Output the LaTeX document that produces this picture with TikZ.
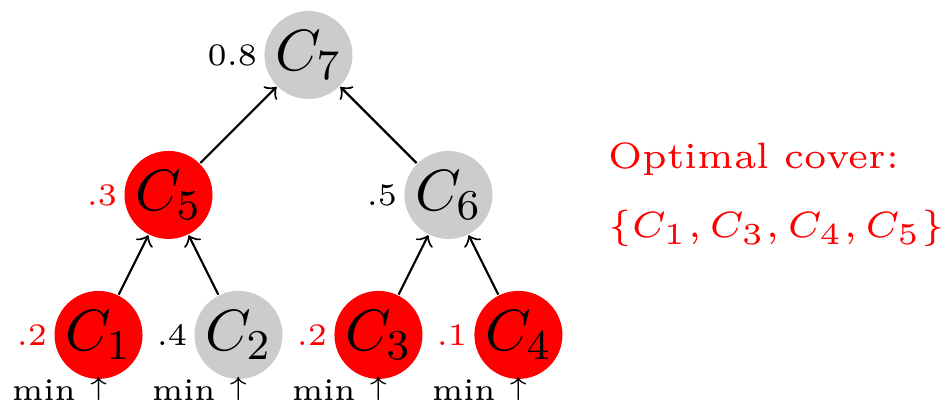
\documentclass[tikz,border=0pt]{standalone}
\usepackage{tikz}
\usetikzlibrary{positioning}
\tikzset{
  cnode/.style={circle, fill=gray!40, minimum size=5.83mm, inner sep=0pt,
                font=\fontsize{10.95}{13}\selectfont},
  picked/.style={cnode, fill=red},
  wlabel/.style={font=\fontsize{5.9}{7}\selectfont, inner sep=0pt, label distance=1pt},
  minlabel/.style={label={[wlabel, label distance=-0.75pt]below:\llap{min }\raisebox{1pt}{$\scriptstyle\uparrow$}}},
  cover/.style={anchor=base west, inner sep=0pt, text=red, scale=1.15, font=\fontsize{6}{7}\selectfont},
  arr/.style={->},
}

\begin{document}
\begin{tikzpicture}[node distance=9.27mm and 9.27mm, on grid]
    \useasboundingbox (0,0) rectangle (6.272,-2.662);
    % tree
    \node[cnode, label={[wlabel]left:0.8}] (c7) at (2.043,-0.364) {$C_7$};
    \node[picked, below left=of c7, label={[wlabel, text=red]left:.3}] (c5) {$C_5$};
    \node[cnode, below right=of c7, label={[wlabel]left:.5}] (c6) {$C_6$};
    \node[picked, below left=9.27mm and 4.635mm of c5, minlabel, label={[wlabel, text=red]left:.2}] (c1) {$C_1$};
    \node[cnode, below right=9.27mm and 4.635mm of c5, minlabel, label={[wlabel]left:.4}] (c2) {$C_2$};
    \node[picked, below left=9.27mm and 4.635mm of c6, minlabel, label={[wlabel, text=red]left:.2}] (c3) {$C_3$};
    \node[picked, below right=9.27mm and 4.635mm of c6, minlabel, label={[wlabel, text=red]left:.1}] (c4) {$C_4$};
    \draw[arr] (c1) -- (c5);
    \draw[arr] (c2) -- (c5);
    \draw[arr] (c3) -- (c6);
    \draw[arr] (c4) -- (c6);
    \draw[arr] (c5) -- (c7);
    \draw[arr] (c6) -- (c7);
    % result
    \node[cover] (covertxt) at (4.02,-1.119) {Optimal cover:};
    \node[cover] (coverset) at (4.02,-1.570) {$\{C_1, C_3, C_4, C_5\}$};
\end{tikzpicture}
\end{document}
